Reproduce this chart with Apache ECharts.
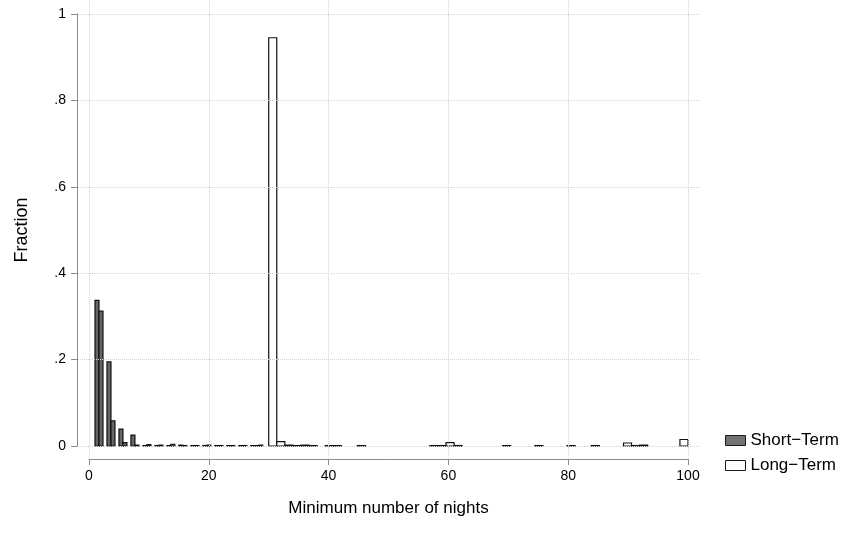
<!DOCTYPE html>
<html>
<head>
<meta charset="utf-8">
<script src="https://cdn.jsdelivr.net/npm/echarts@6/dist/echarts.min.js"></script>
<style>html,body{margin:0;padding:0;background:#fff}#c{width:847px;height:548px}</style>
</head>
<body>
<div id="c"></div>
<script>
// ---- data ----
const shortNights = [1,2,3,4,5,6,7,8,9,10,11,12,13,14,15,16,17,18,19,20,21,22,23,24,25,26,27,28,29];
const shortFrac   = [0.337,0.312,0.195,0.058,0.039,0.008,0.025,0.002,0.001,0.003,0.001,0.002,0.001,0.004,0.002,0.001,0.001,0.001,0.001,0.002,0.001,0.001,0.001,0.001,0.001,0.001,0.001,0.001,0.002];
const longNights  = [30,32,33,35,36,37,40,41,45,58,59,60,62,70,75,80,85,90,91,92,93,100];
const longFrac    = [0.945,0.010,0.002,0.001,0.002,0.001,0.001,0.001,0.001,0.001,0.001,0.008,0.001,0.001,0.001,0.001,0.001,0.007,0.001,0.001,0.001,0.015];
const shortRange = [1, 29], shortBins = 42;
const longRange  = [30, 100], longBins = 52;
const xTicks = [0,20,40,60,80,100];
const yTicks = [0,0.2,0.4,0.6,0.8,1];
const yTickLabels = ['0','.2','.4','.6','.8','1'];
const seriesNames = ['Short\u2212Term','Long\u2212Term'];

// histogram binning (Stata style: start at min, equal widths)
function bins(nights, frac, range, n){
  const w = (range[1]-range[0])/n;
  const map = {};
  nights.forEach((v,i)=>{
    let k = Math.floor((v-range[0])/w); if(k>=n) k=n-1;
    map[k] = (map[k]||0) + frac[i];
  });
  return Object.keys(map).map(k=>[range[0]+k*w, range[0]+(+k+1)*w, map[k]]);
}
const shortData = bins(shortNights, shortFrac, shortRange, shortBins);
const longData  = bins(longNights, longFrac, longRange, longBins);

const FONT = 'Liberation Sans, Arial, Helvetica, sans-serif';
function rectItem(params, api){
  const p0 = api.coord([api.value(0), api.value(2)]);
  const p1 = api.coord([api.value(1), 0]);
  return {type:'rect', shape:{x:p0[0], y:p0[1], width:p1[0]-p0[0], height:p1[1]-p0[1]},
          style: api.style()};
}
const chart = echarts.init(document.getElementById('c'), null, {renderer:'canvas'});
const grid = {left:89, right:159, top:14, bottom:102};
chart.setOption({
  animation:false,
  textStyle:{fontFamily:FONT},
  grid:[grid, {left:78, right:147, top:1, bottom:90}],
  xAxis:[{
    type:'value', gridIndex:0, min:0, max:100, interval:20, offset:13,
    name:'Minimum number of nights', nameLocation:'middle', nameGap:41,
    nameTextStyle:{fontSize:17, color:'#000', fontFamily:FONT},
    axisLine:{show:true, onZero:false, lineStyle:{color:'#8c8c8c', width:1}},
    axisTick:{show:true, length:6, lineStyle:{color:'#8c8c8c'}},
    axisLabel:{fontSize:14, color:'#000', margin:10, fontFamily:FONT},
    splitLine:{show:false}
  },{
    type:'value', gridIndex:1, min:-1.84, max:102.0, show:false, splitLine:{show:false}
  }],
  yAxis:[{
    type:'value', gridIndex:0, min:0, max:1, interval:0.2, offset:12,
    name:'Fraction', nameLocation:'middle', nameGap:46, nameRotate:90,
    nameTextStyle:{fontSize:18, color:'#000', fontFamily:FONT},
    axisLine:{show:true, onZero:false, lineStyle:{color:'#8c8c8c', width:1}},
    axisTick:{show:true, length:6, lineStyle:{color:'#8c8c8c'}},
    axisLabel:{fontSize:14, color:'#000', margin:11, fontFamily:FONT,
      formatter:(v)=>{const i=yTicks.findIndex(t=>Math.abs(t-v)<1e-9); return i>=0?yTickLabels[i]:'';}},
    splitLine:{show:false}
  },{
    type:'value', gridIndex:1, min:-0.0278, max:1.030, show:false, splitLine:{show:false}
  }],
  legend:{
    orient:'vertical', left:720, top:427, itemWidth:20, itemHeight:10, itemGap:8,
    icon:'rect',
    textStyle:{fontSize:17, color:'#000', fontFamily:FONT},
    data:[
      {name:seriesNames[0], itemStyle:{color:'#737373', borderColor:'#1a1a1a', borderWidth:1}},
      {name:seriesNames[1], itemStyle:{color:'#ffffff', borderColor:'#1a1a1a', borderWidth:1}}
    ]
  },
  series:[
    {
      type:'line', xAxisIndex:1, yAxisIndex:1, data:[], silent:true, z:0,
      markLine:{silent:true, symbol:'none', animation:false, label:{show:false},
        lineStyle:{color:'#d2d2d2', type:'dotted', width:1},
        data: xTicks.map(v=>({xAxis:v})).concat(yTicks.map(v=>({yAxis:v})))}
    },
    {
      name:seriesNames[0], type:'custom', xAxisIndex:0, yAxisIndex:0, z:3,
      renderItem:rectItem, data:shortData, clip:false,
      itemStyle:{color:'#666666', borderColor:'#111111', borderWidth:1.2}
    },
    {
      name:seriesNames[1], type:'custom', xAxisIndex:0, yAxisIndex:0, z:3,
      renderItem:rectItem, data:longData, clip:false,
      itemStyle:{color:'#ffffff', borderColor:'#111111', borderWidth:1.2}
    }
  ]
});
</script>
</body>
</html>
